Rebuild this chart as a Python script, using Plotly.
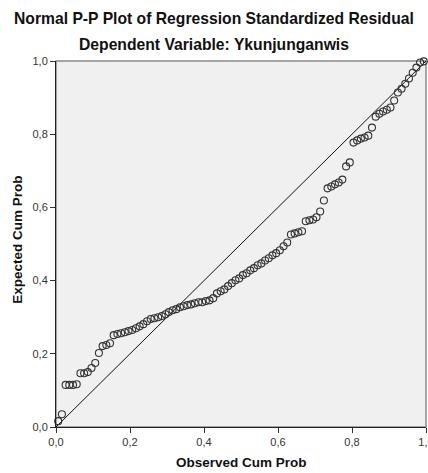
import plotly.graph_objects as go

# Observed cumulative probability (x) and expected cumulative probability (y)
obs_cum_prob = [
    0.006, 0.016, 0.026, 0.036, 0.046, 0.056, 0.066, 0.076, 0.086, 0.096,
    0.106, 0.116, 0.126, 0.136, 0.146, 0.156, 0.166, 0.176, 0.186, 0.196,
    0.206, 0.216, 0.226, 0.236, 0.246, 0.256, 0.266, 0.276, 0.286, 0.296,
    0.305, 0.315, 0.325, 0.335, 0.345, 0.355, 0.365, 0.375, 0.385, 0.395,
    0.405, 0.415, 0.425, 0.435, 0.445, 0.455, 0.465, 0.475, 0.485, 0.495,
    0.505, 0.515, 0.525, 0.535, 0.545, 0.555, 0.565, 0.575, 0.585, 0.595,
    0.605, 0.615, 0.625, 0.635, 0.645, 0.655, 0.665, 0.675, 0.685, 0.695,
    0.704, 0.714, 0.724, 0.734, 0.744, 0.754, 0.764, 0.774, 0.784, 0.794,
    0.804, 0.814, 0.824, 0.834, 0.844, 0.854, 0.864, 0.874, 0.884, 0.894,
    0.904, 0.914, 0.924, 0.934, 0.944, 0.954, 0.964, 0.974, 0.984, 0.994,
]
exp_cum_prob = [
    0.016, 0.035, 0.115, 0.115, 0.115, 0.117, 0.147, 0.147, 0.150, 0.161,
    0.175, 0.202, 0.221, 0.224, 0.229, 0.251, 0.254, 0.256, 0.259, 0.262,
    0.265, 0.270, 0.275, 0.281, 0.289, 0.295, 0.297, 0.300, 0.303, 0.308,
    0.314, 0.319, 0.322, 0.327, 0.330, 0.333, 0.335, 0.338, 0.341, 0.341,
    0.344, 0.346, 0.352, 0.365, 0.371, 0.376, 0.385, 0.393, 0.401, 0.406,
    0.415, 0.420, 0.428, 0.434, 0.442, 0.447, 0.455, 0.461, 0.469, 0.475,
    0.483, 0.494, 0.504, 0.526, 0.529, 0.532, 0.535, 0.562, 0.565, 0.567,
    0.573, 0.589, 0.619, 0.652, 0.657, 0.663, 0.668, 0.676, 0.712, 0.723,
    0.777, 0.783, 0.788, 0.791, 0.796, 0.818, 0.848, 0.856, 0.862, 0.867,
    0.873, 0.892, 0.914, 0.924, 0.938, 0.952, 0.968, 0.982, 0.996, 0.999,
]
ref_line = [0.0, 1.0]
tick_vals = [0.0, 0.2, 0.4, 0.6, 0.8, 1.0]

title_main = "Normal P-P Plot of Regression Standardized Residual"
title_sub = "Dependent Variable: Ykunjunganwis"
x_title = "Observed Cum Prob"
y_title = "Expected Cum Prob"

FONT = "Liberation Sans, Arial, sans-serif"

fig = go.Figure()
fig.add_trace(go.Scatter(
    x=ref_line, y=ref_line, mode="lines",
    line=dict(color="#111111", width=1), hoverinfo="skip", showlegend=False,
))
fig.add_trace(go.Scatter(
    x=obs_cum_prob, y=exp_cum_prob, mode="markers",
    marker=dict(symbol="circle-open", size=7, color="#333333", line=dict(width=1.1)),
    cliponaxis=False, showlegend=False,
))

axis_common = dict(
    range=[0, 1], tickvals=tick_vals, tickformat=".1f",
    ticks="outside", ticklen=5, tickwidth=1, tickcolor="#333333",
    showline=True, linecolor="#222222", linewidth=1,
    showgrid=False, zeroline=False, automargin=False,
    ticklabeloverflow="allow",
    tickfont=dict(family=FONT, size=11, color="#333333"),
)

fig.update_layout(
    width=428, height=473,
    margin=dict(l=56, r=2, t=61, b=46),
    paper_bgcolor="white", plot_bgcolor="#f0f0f0",
    separators=",.",
    xaxis=dict(**axis_common),
    yaxis=dict(**axis_common),
    font=dict(family=FONT),
    shapes=[dict(type="rect", xref="paper", yref="paper", x0=0, y0=0, x1=1, y1=1,
                 line=dict(color="#8a8a8a", width=1.5), layer="below")],
    annotations=[
        dict(text="<b>" + title_main + "</b>", xref="paper", yref="paper",
             x=0.427, y=1.115, xanchor="center", yanchor="middle", showarrow=False,
             font=dict(family=FONT, size=15.7, color="#111111")),
        dict(text="<b>" + title_sub + "</b>", xref="paper", yref="paper",
             x=0.427, y=1.044, xanchor="center", yanchor="middle", showarrow=False,
             font=dict(family=FONT, size=15.7, color="#111111")),
        dict(text="<b>" + x_title + "</b>", xref="paper", yref="paper",
             x=0.5, y=-0.098, xanchor="center", yanchor="middle", showarrow=False,
             font=dict(family=FONT, size=13.5, color="#111111")),
        dict(text="<b>" + y_title + "</b>", xref="paper", yref="paper",
             x=-0.103, y=0.511, xanchor="center", yanchor="middle", showarrow=False,
             textangle=-90, font=dict(family=FONT, size=13.5, color="#111111")),
    ],
)

fig.write_html(
    "out.html",
    config={"displayModeBar": False},
    post_script="document.body.style.margin='0';document.body.style.overflow='hidden';",
)
